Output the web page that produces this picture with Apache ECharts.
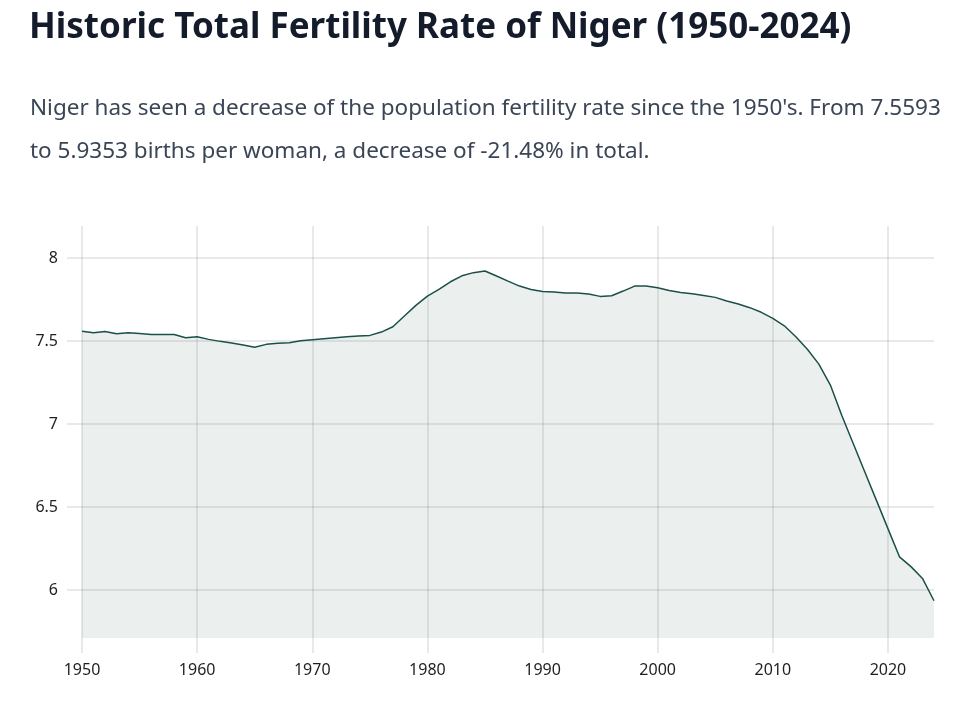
<!DOCTYPE html>
<html>
<head>
<meta charset="utf-8">
<script src="https://cdn.jsdelivr.net/npm/echarts@6/dist/echarts.min.js"></script>
<style>
html,body{margin:0;padding:0;background:#fff;}
#chart{width:962px;height:721px;}
</style>
</head>
<body>
<div id="chart"></div>
<script>
const titleText = "Historic Total Fertility Rate of Niger (1950-2024)";
const subtitleText = "Niger has seen a decrease of the population fertility rate since the 1950's. From 7.5593\nto 5.9353 births per woman, a decrease of -21.48% in total.";
const years = [];
for (let y = 1950; y <= 2024; y++) years.push(y);
const fertility = [
  7.5593, 7.550, 7.558, 7.544, 7.550, 7.546, 7.540, 7.539, 7.539, 7.520,
  7.526, 7.510, 7.498, 7.488, 7.476, 7.462, 7.480, 7.486, 7.490, 7.502,
  7.508, 7.514, 7.520, 7.526, 7.530, 7.534, 7.554, 7.586, 7.651, 7.715,
  7.771, 7.811, 7.857, 7.893, 7.912, 7.922, 7.892, 7.861, 7.831, 7.811,
  7.799, 7.795, 7.789, 7.789, 7.783, 7.769, 7.773, 7.801, 7.831, 7.831,
  7.821, 7.805, 7.793, 7.785, 7.775, 7.763, 7.741, 7.723, 7.701, 7.673,
  7.637, 7.592, 7.526, 7.450, 7.361, 7.235, 7.050, 6.880, 6.710, 6.540,
  6.370, 6.200, 6.141, 6.070, 5.9353
];
const xTicks = [1950, 1960, 1970, 1980, 1990, 2000, 2010, 2020];
const yTicks = [6, 6.5, 7, 7.5, 8];

const chart = echarts.init(document.getElementById('chart'));
const gridColor = 'rgba(0,0,0,0.085)';
const labelFont = "'Noto Sans', sans-serif";
chart.setOption({
  animation: false,
  title: [{
    text: titleText,
    left: 29, top: 11, padding: 0,
    textStyle: {fontFamily: labelFont, fontSize: 35, fontWeight: 'bold', color: '#141b2b'}
  }, {
    text: subtitleText,
    left: 30, top: 87, padding: 0,
    textStyle: {fontFamily: labelFont, fontSize: 22.5, fontWeight: 'normal', color: '#3a4556', lineHeight: 43}
  }],
  grid: {left: 82, right: 28, top: 226, bottom: 83},
  xAxis: {
    type: 'value', min: 1950, max: 2024,
    axisLine: {show: false},
    axisTick: {show: true, length: 15, customValues: xTicks, lineStyle: {color: gridColor, width: 2}},
    axisLabel: {customValues: xTicks, margin: 24, color: '#1f1f1f', fontSize: 16, fontFamily: labelFont,
      formatter: v => String(v)},
    splitLine: {show: true, lineStyle: {color: gridColor, width: 2}}
  },
  yAxis: {
    type: 'value', min: 5.711, max: 8.193,
    axisLine: {show: false},
    axisTick: {show: true, length: 15, customValues: yTicks, lineStyle: {color: gridColor, width: 2}},
    axisLabel: {customValues: yTicks, margin: 24, color: '#1f1f1f', fontSize: 16, fontFamily: labelFont},
    splitLine: {show: true, lineStyle: {color: gridColor, width: 2}}
  },
  series: [{
    type: 'line',
    data: years.map((y, i) => [y, fertility[i]]),
    showSymbol: false,
    lineStyle: {color: '#1b5049', width: 1.5},
    areaStyle: {color: 'rgba(27,80,73,0.12)', origin: 'start'}
  }]
});
</script>
</body>
</html>
